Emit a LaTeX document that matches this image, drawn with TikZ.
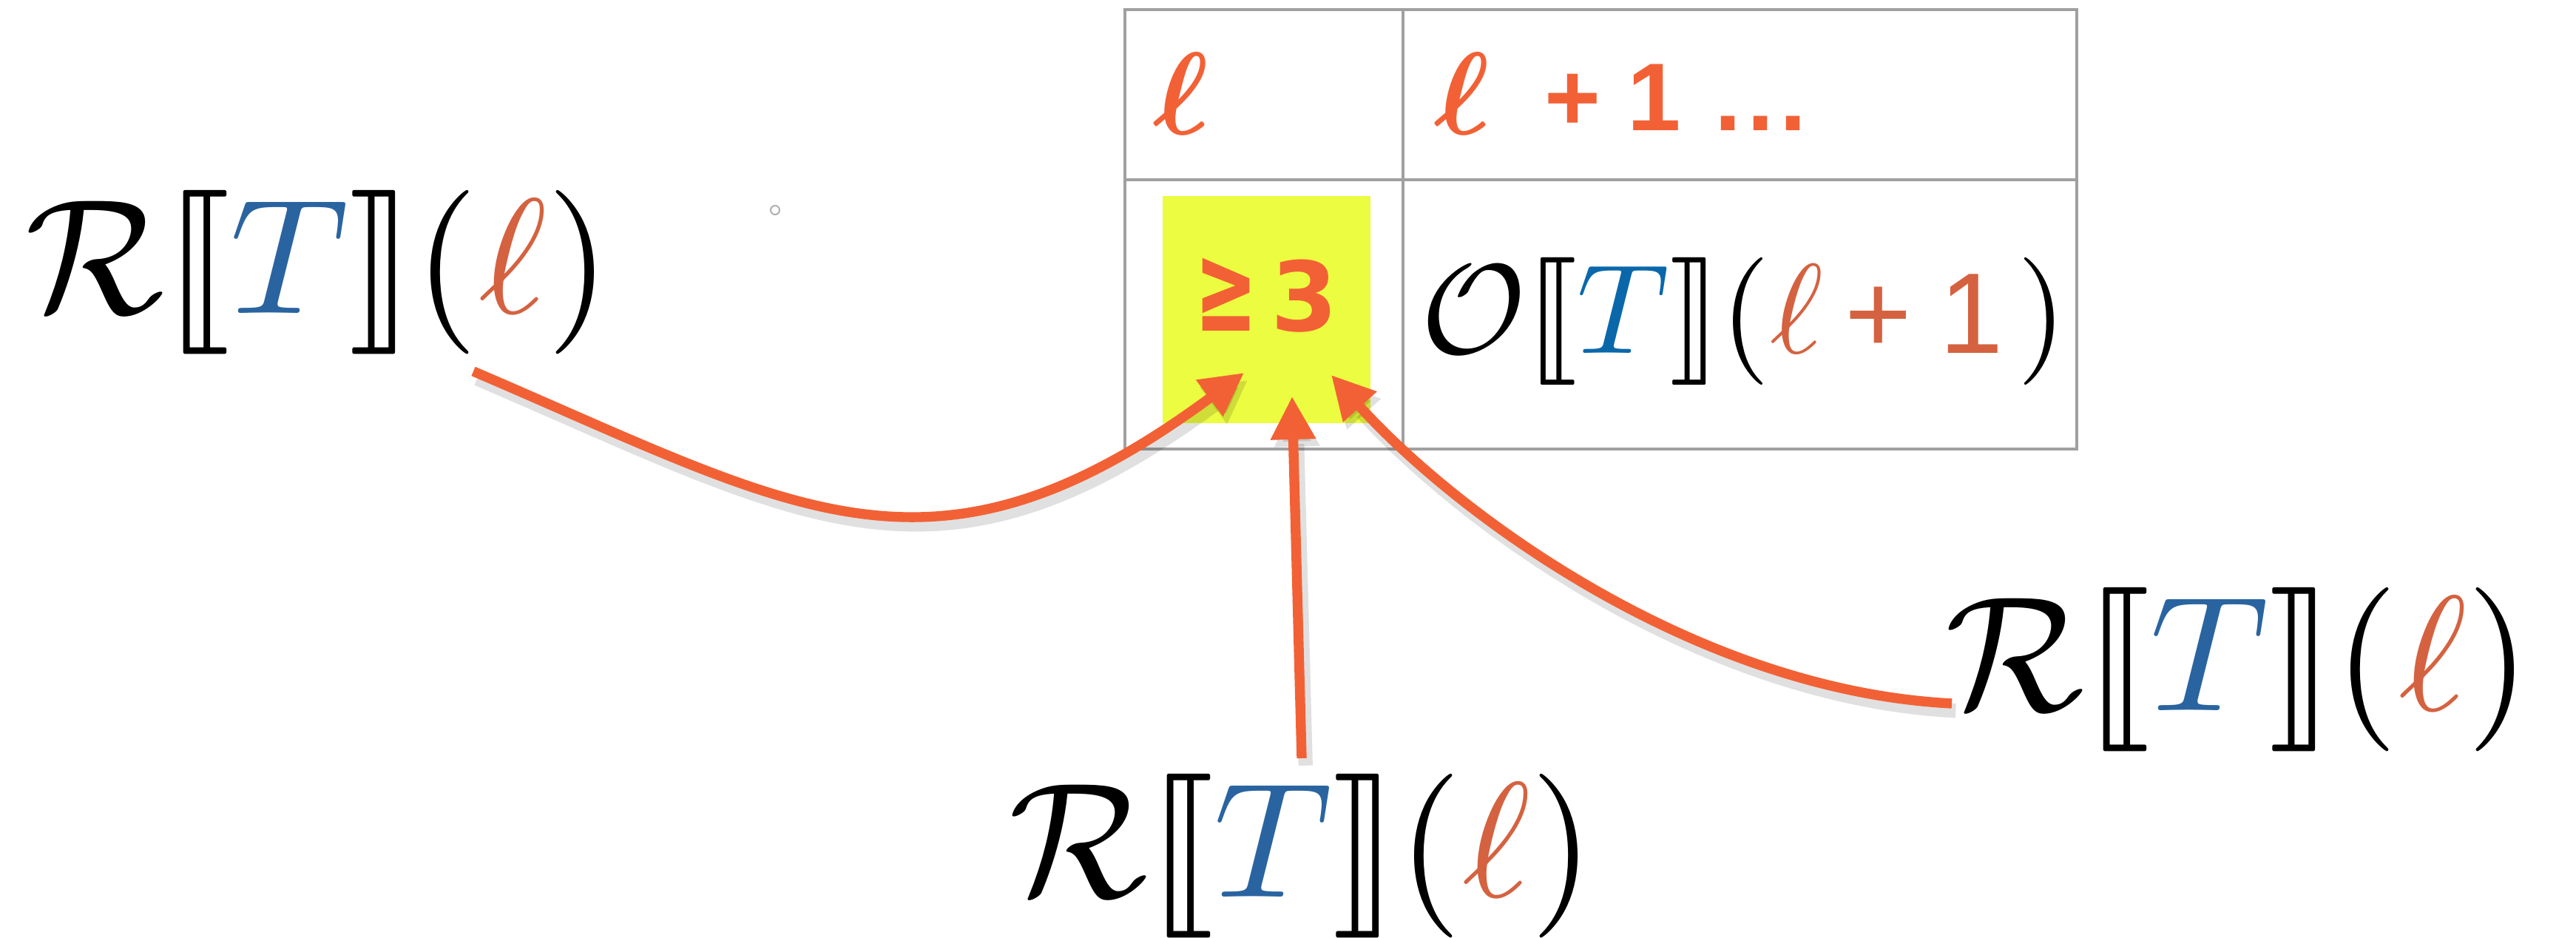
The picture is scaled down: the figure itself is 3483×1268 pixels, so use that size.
\documentclass[tikz,border=0pt]{standalone}
\usepackage{amsmath,amssymb,stmaryrd,bm,graphicx}
\usepackage{fontspec}
\newfontfamily\hsans{Liberation Sans}
\newfontfamily\dsans{DejaVu Sans}
\usetikzlibrary{arrows.meta,calc}
\definecolor{arrow}{RGB}{242,97,53}
\definecolor{lblorange}{RGB}{212,98,64}
\definecolor{tblue}{RGB}{42,100,160}
\definecolor{oblue}{RGB}{10,104,170}
\definecolor{hl}{RGB}{236,252,64}
\definecolor{grid}{RGB}{160,160,160}
\newcommand{\RTl}{$\mathcal{R}\llbracket\textcolor{tblue}{T}\rrbracket(\textcolor{lblorange}{\ell})$}
\begin{document}
\begin{tikzpicture}[x=0.01cm,y=-0.01cm,
  gridline/.style={draw=grid, line width=1.3pt},
  conn/.style={draw=arrow, line width=3.8pt, -{Triangle[length=5.8mm,width=5.8mm]},
    preaction={draw=black, opacity=0.12, line width=5.5pt, transform canvas={shift={(1.5pt,-2.8pt)}}}},
  lbl/.style={inner sep=0pt},
  hdr/.style={inner sep=0pt, text=arrow},
]
\useasboundingbox (0,0) rectangle (3483,1268);
% table
\draw[gridline] (1521,13) rectangle (2808,607);
\draw[gridline] (1521,243) -- (2808,243);
\draw[gridline] (1897,13) -- (1897,607);
% highlight
\node[fill=hl, minimum width=2.81cm, minimum height=3.07cm, inner sep=0pt, anchor=north west] (hl) at (1571,264) {};
\node[hdr, anchor=base] (ge) at (1712,448) {\dsans\bfseries\fontsize{37}{40}\selectfont\scalebox{0.78}[1.3]{≥}\hspace{5pt}3};
% header
\node[hdr, anchor=base] (h1) at (1597,182) {\scalebox{4.5}{$\bm\ell$}};
\node[hdr, anchor=base] (h2) at (1977,182) {\scalebox{4.5}{$\bm\ell$}};
\node[hdr, anchor=base west] (h3) at (2088,177) {\hsans\bfseries\fontsize{37}{40}\selectfont +~1\hspace{2.5pt} .\kern2.3pt.\kern2.3pt.};
% right cell
\node[lbl] (O) at (2358,434) {\scalebox{4.9}{$\mathcal{O}\llbracket\textcolor{oblue}{T}\rrbracket(\textcolor{lblorange}{\ell\mkern3mu\text{\hsans\fontsize{9}{10}\selectfont +\hspace{2.2pt}1}}\mkern2mu)$}};
% labels
\node[lbl] (L) at (430,368) {\scalebox{6.3}{\RTl}};
\node[lbl] (B) at (1760,1157) {\scalebox{6.3}{\RTl}};
\node[lbl] (R) at (3026,905) {\scalebox{6.3}{\RTl}};
% small mark
\draw[black!30, line width=0.6pt] (1048,284) circle (6);
% connector ends
\coordinate (sL) at (640,502);  \coordinate (tL) at (1682,504);
\coordinate (sM) at (1760,1025); \coordinate (tM) at (1747,536);
\coordinate (sR) at (2639,951); \coordinate (tR) at (1800,507);
\draw[conn] (sL) .. controls (1080,690) and (1260,815) .. (tL);
\draw[conn] (sM) -- (tM);
\draw[conn] (sR) .. controls (2289,933) and (1967,692) .. (tR);
\end{tikzpicture}
\end{document}
